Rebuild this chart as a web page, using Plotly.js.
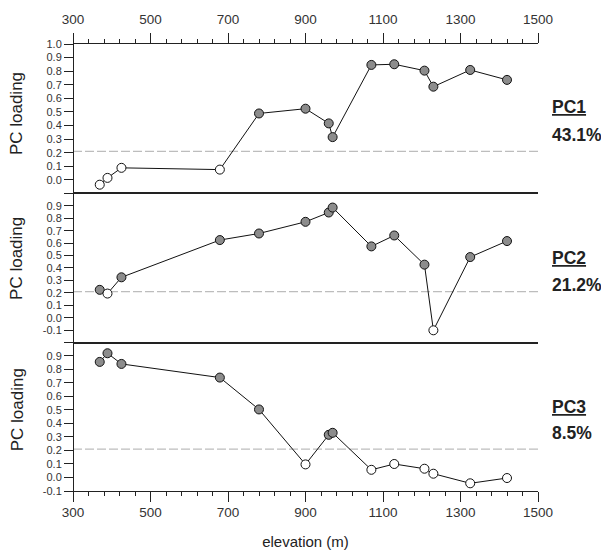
<!DOCTYPE html>
<html>
<head>
<meta charset="utf-8">
<script src="https://cdn.plot.ly/plotly-3.0.1.min.js"></script>
<style>html,body{margin:0;padding:0;background:#fff;}#chart{width:601px;height:551px;}</style>
</head>
<body>
<div id="chart"></div>
<script>
// ---- data ----
var elevation = [369, 389, 425, 679, 780, 900, 960, 970, 1070, 1129, 1207, 1230, 1325, 1420];
var pc1 = [-0.035, 0.015, 0.089, 0.076, 0.489, 0.524, 0.416, 0.315, 0.846, 0.851, 0.804, 0.686, 0.809, 0.736];
var pc2 = [0.224, 0.194, 0.325, 0.625, 0.678, 0.772, 0.847, 0.887, 0.574, 0.662, 0.427, -0.102, 0.488, 0.617];
var pc3 = [0.856, 0.920, 0.841, 0.740, 0.504, 0.097, 0.316, 0.331, 0.057, 0.100, 0.065, 0.028, -0.043, -0.004];
var threshold = 0.21;
var pcNames = ["PC1", "PC2", "PC3"];
var pcVariance = ["43.1%", "21.2%", "8.5%"];
var xTickVals = [300, 500, 700, 900, 1100, 1300, 1500];
var y1TickVals = [-0.1, 0, 0.1, 0.2, 0.3, 0.4, 0.5, 0.6, 0.7, 0.8, 0.9, 1.0];
var y1TickText = ["", "0.0", "0.1", "0.2", "0.3", "0.4", "0.5", "0.6", "0.7", "0.8", "0.9", "1.0"];
var y2TickVals = [-0.2, -0.1, 0, 0.1, 0.2, 0.3, 0.4, 0.5, 0.6, 0.7, 0.8, 0.9, 1.0];
var y2TickText = ["", "-0.1", "0.0", "0.1", "0.2", "0.3", "0.4", "0.5", "0.6", "0.7", "0.8", "0.9", ""];
var y3TickVals = [-0.1, 0, 0.1, 0.2, 0.3, 0.4, 0.5, 0.6, 0.7, 0.8, 0.9, 1.0];
var y3TickText = ["-0.1", "0.0", "0.1", "0.2", "0.3", "0.4", "0.5", "0.6", "0.7", "0.8", "0.9", ""];

// ---- styling ----
var FONT = "Liberation Sans, Arial, Helvetica, sans-serif";
var INK = "#222";
function fills(vals) { return vals.map(function (v) { return v > threshold ? "#8c8c8c" : "#ffffff"; }); }
function trace(y, xa, ya) {
  return {
    x: elevation, y: y, xaxis: xa, yaxis: ya, type: "scatter", mode: "lines+markers",
    line: {color: "#111", width: 1},
    marker: {size: 9, color: fills(y), line: {color: "#111", width: 1}},
    hoverinfo: "x+y", showlegend: false, cliponaxis: false
  };
}
var data = [trace(pc3, "x", "y"), trace(pc2, "x2", "y2"), trace(pc1, "x3", "y3")];

var xBase = {
  range: [300, 1500], showline: true, linecolor: INK, linewidth: 1.2,
  showgrid: false, zeroline: false, tickmode: "array", tickvals: xTickVals,
  tickfont: {family: FONT, size: 13.5, color: "#333"}
};
function xAxis(extra) { return Object.assign({}, xBase, extra); }
function yAxis(range, dom, tv, tt) {
  return {
    range: range, domain: dom, showline: true, linecolor: INK, linewidth: 1.2, mirror: true,
    showgrid: false, zeroline: false, ticks: "outside", ticklen: 9, tickcolor: INK, tickwidth: 1,
    tickmode: "array", tickvals: tv, ticktext: tt, anchor: "free", position: 0,
    tickfont: {family: FONT, size: 11, color: "#333"}
  };
}
var minorTicks = {ticks: "outside", ticklen: 4, tickcolor: INK, tickwidth: 1, dtick: 40, tick0: 300, showgrid: false};

var D3 = [0, 0.3323], D2 = [0.3323, 0.6655], D1 = [0.6655, 1];

var shapes = [["y", "y3"], ["y", "y2"], ["y", "y"]].map(function (p) {
  return {type: "line", xref: "paper", x0: 0, x1: 1, yref: p[1], y0: threshold, y1: threshold,
    line: {color: "#bdbdbd", width: 1.2, dash: "9px,3px"}, layer: "below"};
});

var annotations = [];
var titleY = [0.8436, 0.5196, 0.181];
var nameY = [0.858, 0.5207, 0.1877];
var varY = [0.7955, 0.4603, 0.1296];
for (var i = 0; i < 3; i++) {
  annotations.push({xref: "paper", yref: "paper", x: -0.12, y: titleY[i], xanchor: "center", yanchor: "middle",
    text: "PC loading", textangle: -90, showarrow: false, font: {family: FONT, size: 17, color: INK}});
  annotations.push({xref: "paper", yref: "paper", x: 1.0265, y: nameY[i], xanchor: "left", yanchor: "middle",
    text: "<b><u>" + pcNames[i] + "</u></b>", showarrow: false, font: {family: FONT, size: 17.5, color: INK}});
  annotations.push({xref: "paper", yref: "paper", x: 1.0265, y: varY[i], xanchor: "left", yanchor: "middle",
    text: "<b>" + pcVariance[i] + "</b>", showarrow: false, font: {family: FONT, size: 17.5, color: INK}});
}

var layout = {
  width: 601, height: 551,
  margin: {l: 72.7, r: 63.3, t: 43.5, b: 60, pad: 0},
  paper_bgcolor: "#fff", plot_bgcolor: "#fff",
  xaxis: xAxis({anchor: "y", side: "bottom", mirror: false, ticks: "outside", ticklen: 10, tickcolor: INK, tickwidth: 1,
    minor: minorTicks, ticklabelstandoff: -1,
    title: {text: "elevation (m)", font: {family: FONT, size: 15, color: INK}, standoff: 17}}),
  xaxis2: xAxis({anchor: "y2", mirror: true, showticklabels: false, ticks: ""}),
  xaxis3: xAxis({anchor: "y3", side: "top", mirror: false, ticks: "outside", ticklen: 10, tickcolor: INK, tickwidth: 1,
    minor: minorTicks, ticklabelstandoff: 3}),
  yaxis: yAxis([-0.1, 1.0], D3, y3TickVals, y3TickText),
  yaxis2: yAxis([-0.2, 1.0], D2, y2TickVals, y2TickText),
  yaxis3: yAxis([-0.1, 1.0], D1, y1TickVals, y1TickText),
  shapes: shapes,
  annotations: annotations
};

Plotly.newPlot("chart", data, layout, {displayModeBar: false, staticPlot: true});
</script>
</body>
</html>
